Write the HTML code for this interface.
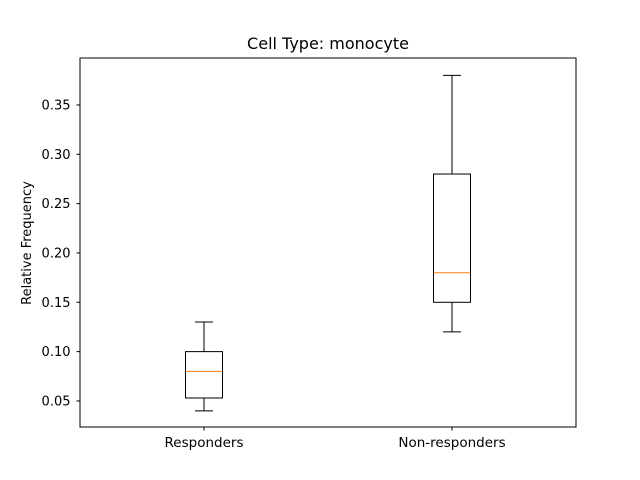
<!DOCTYPE html>
<html><head><meta charset="utf-8"><style>
body{margin:0;background:#fff}
svg{display:block;font-family:"DejaVu Sans","Liberation Sans",sans-serif}
</style></head><body>
<svg id="c" width="640" height="480" xmlns="http://www.w3.org/2000/svg">
<rect width="640" height="480" fill="#fff"/>
<text x="328" y="49" font-size="16" text-anchor="middle">Cell Type: monocyte</text>
<text transform="translate(31,243) rotate(-90)" font-size="13" text-anchor="middle">Relative Frequency</text>
<g id="marks"></g>
<rect x="80" y="58" width="496" height="369" fill="none" stroke="#000" stroke-width="1"/>
</svg>
<script>
const categories = ["Responders", "Non-responders"];
const whiskLow = [0.04, 0.12];
const q1 = [0.053, 0.15];
const medians = [0.08, 0.18];
const q3 = [0.10, 0.28];
const whiskHigh = [0.13, 0.38];
const yTicks = [0.05, 0.10, 0.15, 0.20, 0.25, 0.30, 0.35];
const yTickLabels = ["0.05", "0.10", "0.15", "0.20", "0.25", "0.30", "0.35"];

const X0 = 80, X1 = 576, Y0 = 427, Y1 = 58;
const yMin = 0.0236, yMax = 0.3976;
function y(v){ return Y0 - (v - yMin) / (yMax - yMin) * (Y0 - Y1); }
function xc(i){ return X0 + (X1 - X0) * (0.25 + 0.5 * i); }
const NS = "http://www.w3.org/2000/svg";
const g = document.getElementById('marks');
function mk(tag, attrs, parent){ const e = document.createElementNS(NS, tag); for (const k in attrs) e.setAttribute(k, attrs[k]); (parent||g).appendChild(e); return e; }

yTicks.forEach((t, i) => {
  const l = mk('line', {x1: X0 - 3.5, x2: X0, y1: y(t), y2: y(t), stroke: '#000'});
  
  
  const tx = mk('text', {x: X0 - 9.5, y: y(t) + 4.5, 'font-size': 13, 'text-anchor': 'end'});
  tx.textContent = yTickLabels[i];
  
  
});

const hw = 18.5, cap = 9;
categories.forEach((c, i) => {
  const cx = xc(i);
  const grp = mk('g', {});
  
  
  mk('line', {x1: cx, x2: cx, y1: y(whiskLow[i]), y2: y(q1[i]), stroke: '#000'}, grp);
  mk('line', {x1: cx, x2: cx, y1: y(q3[i]), y2: y(whiskHigh[i]), stroke: '#000'}, grp);
  mk('line', {x1: cx - cap, x2: cx + cap, y1: y(whiskLow[i]), y2: y(whiskLow[i]), stroke: '#000'}, grp);
  mk('line', {x1: cx - cap, x2: cx + cap, y1: y(whiskHigh[i]), y2: y(whiskHigh[i]), stroke: '#000'}, grp);
  mk('rect', {x: cx - hw, y: y(q3[i]), width: 2 * hw, height: y(q1[i]) - y(q3[i]), fill: 'none', stroke: '#000'}, grp);
  mk('line', {x1: cx - hw, x2: cx + hw, y1: y(medians[i]), y2: y(medians[i]), stroke: '#ff7f0e'}, grp);
  const tk = mk('line', {x1: cx, x2: cx, y1: Y0, y2: Y0 + 3.5, stroke: '#000'});
  
  
  const lb = mk('text', {x: cx, y: Y0 + 20, 'font-size': 13.5, 'text-anchor': 'middle'});
  lb.textContent = c;
  
  
});
</script>
</body></html>
